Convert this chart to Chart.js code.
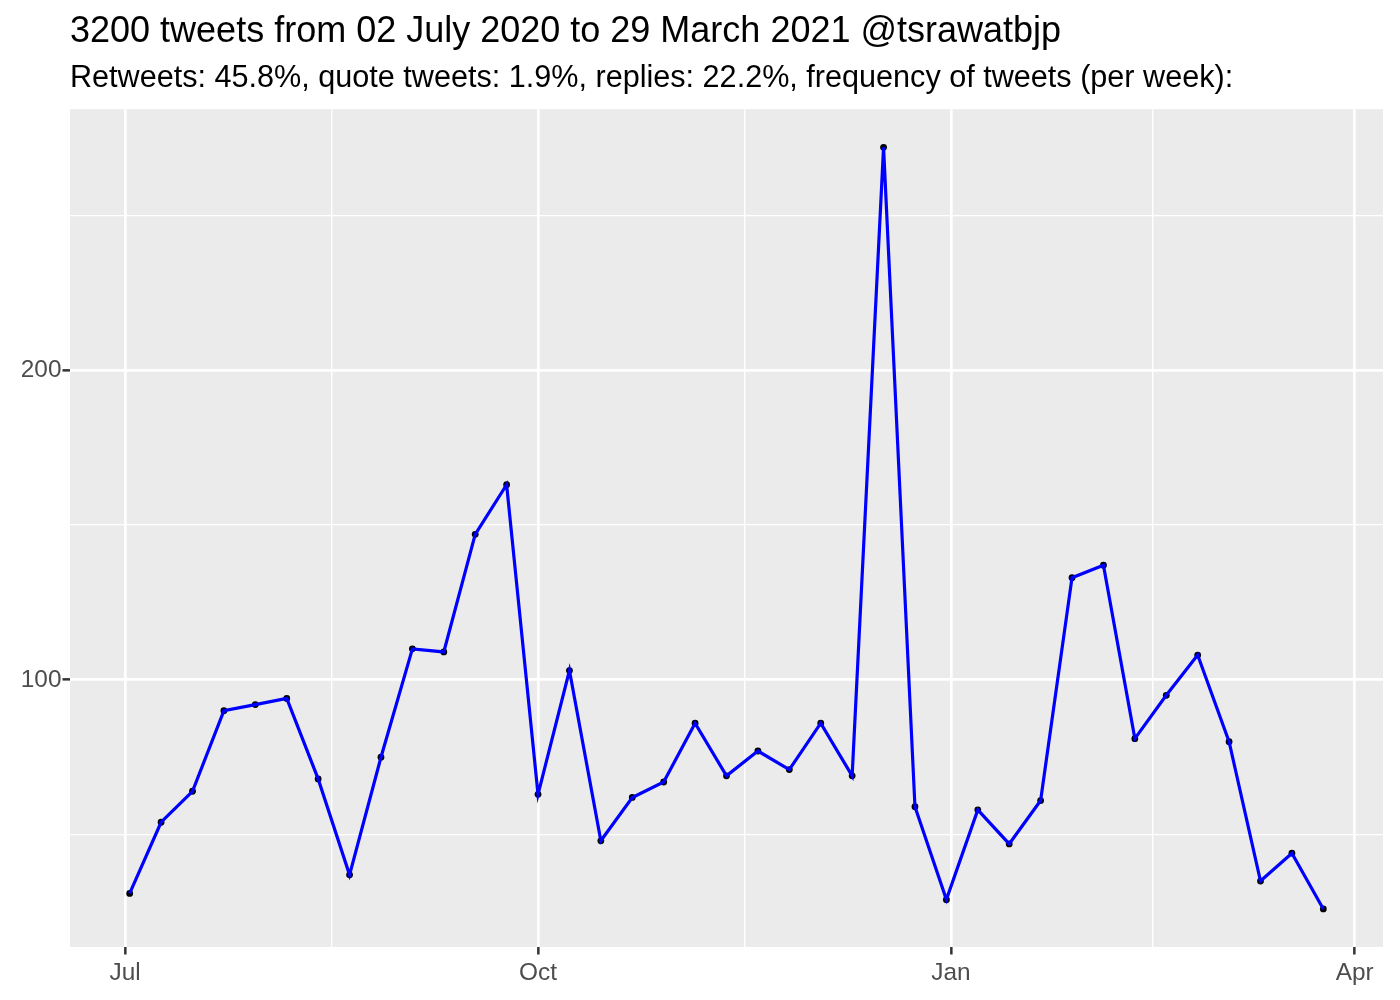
<!DOCTYPE html>
<html>
<head>
<meta charset="utf-8">
<script src="https://cdn.jsdelivr.net/npm/chart.js@4/dist/chart.umd.min.js"></script>
<style>
  body { margin: 0; background: #fff; }
  canvas { display: block; }
</style>
</head>
<body>
<canvas id="chartCanvas" width="1400" height="1000"></canvas>
<script>
// weekly tweet counts (week start dates)
const weekDates = [
    '2020-07-02', '2020-07-09', '2020-07-16', '2020-07-23', '2020-07-30',
    '2020-08-06', '2020-08-13', '2020-08-20', '2020-08-27', '2020-09-03',
    '2020-09-10', '2020-09-17', '2020-09-24', '2020-10-01', '2020-10-08',
    '2020-10-15', '2020-10-22', '2020-10-29', '2020-11-05', '2020-11-12',
    '2020-11-19', '2020-11-26', '2020-12-03', '2020-12-10', '2020-12-17',
    '2020-12-24', '2020-12-31', '2021-01-07', '2021-01-14', '2021-01-21',
    '2021-01-28', '2021-02-04', '2021-02-11', '2021-02-18', '2021-02-25',
    '2021-03-04', '2021-03-11', '2021-03-18', '2021-03-25'
];
const tweetCounts = [
    31, 54, 64, 90, 92,
    94, 68, 37, 75, 110,
    109, 147, 163, 63, 103,
    48, 62, 67, 86, 69,
    77, 71, 86, 69, 272,
    59, 29, 58, 47, 61,
    133, 137, 81, 95, 108,
    80, 35, 44, 26
];

const xMajorDates = ['2020-07-01', '2020-10-01', '2021-01-01', '2021-04-01'];
const xMajorLabels = ['Jul', 'Oct', 'Jan', 'Apr'];
const xMinorDates = ['2020-08-16', '2020-11-16', '2021-02-15'];
const yMajorTicks = [100, 200];
const yMinorTicks = [50, 150, 250];

const titleText = '3200 tweets from 02 July 2020 to 29 March 2021 @tsrawatbjp';
const subtitleText = 'Retweets: 45.8%, quote tweets: 1.9%, replies: 22.2%, frequency of tweets (per week):';

const origin = Date.UTC(2020, 6, 1);
function toDay(s) {
    const p = s.split('-');
    return (Date.UTC(+p[0], +p[1] - 1, +p[2]) - origin) / 86400000;
}

const points = weekDates.map((d, i) => ({ x: toDay(d), y: tweetCounts[i] }));
const xMajor = xMajorDates.map(toDay);
const xMinor = xMinorDates.map(toDay);

const firstDay = points[0].x;
const lastDay = points[points.length - 1].x;
const xPad = (lastDay - firstDay) * 0.05;
const yMin = Math.min(...tweetCounts);
const yMax = Math.max(...tweetCounts);
const yPad = (yMax - yMin) * 0.05;

const FONT = "'Liberation Sans', Arial, Helvetica, sans-serif";
const AXIS_TEXT = '#4D4D4D';

const panelBackground = {
    id: 'panelBackground',
    beforeDraw(chart) {
        const { ctx, chartArea } = chart;
        ctx.save();
        ctx.fillStyle = '#EBEBEB';
        ctx.fillRect(chartArea.left, chartArea.top, chartArea.right - chartArea.left, chartArea.bottom - chartArea.top);
        ctx.restore();
    }
};

function isMajor(list, v) {
    return list.some(m => Math.abs(m - v) < 1e-6);
}

const ctx = document.getElementById('chartCanvas').getContext('2d');
new Chart(ctx, {
    type: 'line',
    data: {
        datasets: [
            {
                data: points,
                borderColor: '#0000FF',
                borderWidth: 3.2,
                pointRadius: 0,
                fill: false,
                tension: 0,
                order: 0
            },
            {
                data: points,
                showLine: false,
                pointRadius: 3.4,
                pointBorderWidth: 0,
                pointBackgroundColor: '#000000',
                order: 1
            }
        ]
    },
    options: {
        responsive: false,
        animation: false,
        layout: { padding: { left: 1, right: 17, top: 0, bottom: 0 } },
        plugins: {
            legend: { display: false },
            tooltip: { enabled: false },
            title: {
                display: true,
                text: titleText,
                align: 'start',
                fullSize: false,
                color: '#000000',
                font: { family: FONT, size: 36, weight: 'normal', lineHeight: 1.2 },
                padding: { top: 10, bottom: 0 }
            },
            subtitle: {
                display: true,
                text: subtitleText,
                align: 'start',
                fullSize: false,
                color: '#000000',
                font: { family: FONT, size: 30.6, weight: 'normal', lineHeight: 1.2 },
                padding: { top: 7.5, bottom: 11.8 }
            }
        },
        scales: {
            x: {
                type: 'linear',
                min: firstDay - xPad,
                max: lastDay + xPad,
                afterBuildTicks(scale) {
                    scale.ticks = xMajor.concat(xMinor).sort((a, b) => a - b).map(v => ({ value: v }));
                },
                afterFit(scale) { scale.height = 53; },
                border: { display: false },
                grid: {
                    color: '#FFFFFF',
                    lineWidth: c => isMajor(xMajor, c.tick.value) ? 2.7 : 1.35,
                    tickLength: 7.5,
                    tickWidth: 2.5,
                    tickColor: c => isMajor(xMajor, c.tick.value) ? '#333333' : 'rgba(0,0,0,0)'
                },
                ticks: {
                    autoSkip: false,
                    maxRotation: 0,
                    padding: 4,
                    color: AXIS_TEXT,
                    font: { family: FONT, size: 24.4 },
                    callback: v => {
                        const i = xMajor.findIndex(m => Math.abs(m - v) < 1e-6);
                        return i >= 0 ? xMajorLabels[i] : '';
                    }
                }
            },
            y: {
                type: 'linear',
                min: yMin - yPad,
                max: yMax + yPad,
                afterBuildTicks(scale) {
                    scale.ticks = yMajorTicks.concat(yMinorTicks).sort((a, b) => a - b).map(v => ({ value: v }));
                },
                afterFit(scale) { scale.width = 69; },
                border: { display: false },
                grid: {
                    color: '#FFFFFF',
                    lineWidth: c => isMajor(yMajorTicks, c.tick.value) ? 2.7 : 1.35,
                    tickLength: 7.5,
                    tickWidth: 2.5,
                    tickColor: c => isMajor(yMajorTicks, c.tick.value) ? '#333333' : 'rgba(0,0,0,0)'
                },
                ticks: {
                    autoSkip: false,
                    padding: 1,
                    color: AXIS_TEXT,
                    font: { family: FONT, size: 24.4 },
                    callback: v => isMajor(yMajorTicks, v) ? String(v) : ''
                }
            }
        }
    },
    plugins: [panelBackground]
});
</script>
</body>
</html>
